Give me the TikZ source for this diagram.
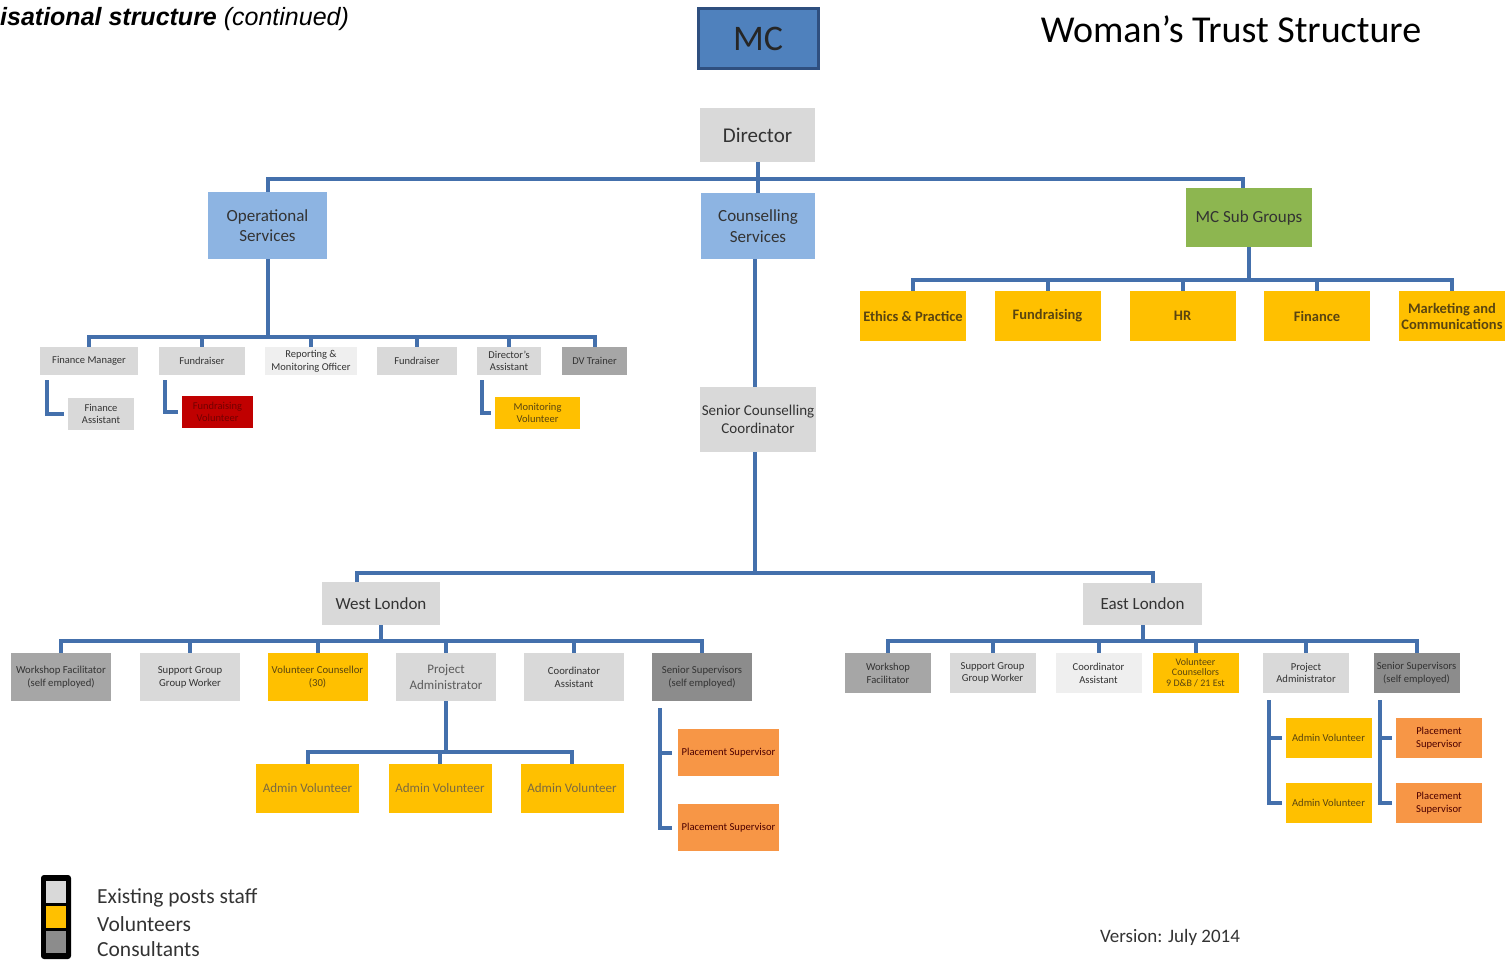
\documentclass[tikz,border=0pt]{standalone}
\usepackage{fontspec}
\setmainfont{Carlito}
\newfontfamily\arialf{Liberation Sans}
\definecolor{cline}{HTML}{4470AC}
\definecolor{mcblue}{HTML}{4F81BD}
\definecolor{mcedge}{HTML}{2F4F7F}
\definecolor{lblue}{HTML}{8DB4E2}
\definecolor{sgreen}{HTML}{8DB650}
\definecolor{gold}{HTML}{FFC000}
\definecolor{orng}{HTML}{F79646}
\definecolor{lgrey}{HTML}{D9D9D9}
\definecolor{vlgrey}{HTML}{EFEFEF}
\definecolor{mgrey}{HTML}{A6A6A6}
\definecolor{dgrey}{HTML}{8C8C8C}
\definecolor{dred}{HTML}{C00000}
\definecolor{txt}{HTML}{333333}
\definecolor{goldtxt}{HTML}{5A4510}
\tikzset{
  bx/.style={inner sep=0pt, outer sep=0pt, align=center, text=txt},
  conn/.style={draw=cline, line width=4pt},
  fs/.style={font=\fontsize{#1pt}{\dimexpr #1pt*6/5\relax}\selectfont},
}
\begin{document}
\begin{tikzpicture}[x=1pt,y=-1pt]
\useasboundingbox (0,0) rectangle (1512,960);
% headings
\node[anchor=west, inner sep=0pt] (hdr) at (0,19) {\arialf\fontsize{25}{27}\selectfont\textbf{\textit{isational structure}} \textit{(continued)}};
\node[inner sep=0pt] (title) at (1231,29) {\fontsize{38}{42}\selectfont Woman’s Trust Structure};
\node[bx, fill=mcblue, draw=mcedge, line width=3pt, minimum width=120pt, minimum height=60pt, fs=36, text=black!85] (mc) at (758,39) {MC};
% level 1
\node[bx, fill=lgrey, minimum width=115pt, minimum height=54pt, fs=21] (dir) at (757.5,135) {Director};
\node[bx, fill=lblue, minimum width=119pt, minimum height=67pt, fs=17] (ops) at (267.5,225.5) {Operational\\Services};
\node[bx, fill=lblue, minimum width=114pt, minimum height=66pt, fs=17] (cns) at (758,226) {Counselling\\Services};
\node[bx, fill=sgreen, minimum width=126pt, minimum height=59pt, fs=17] (mcs) at (1249,217.5) {MC Sub Groups};
\coordinate (b1) at (0,179);
\draw[conn] (dir.south) -- (dir.south |- b1) -| (ops.north);
\draw[conn] (dir.south |- b1) -| (cns.north);
\draw[conn] ([xshift=-6pt]mcs.north) |- (dir.south |- b1);
% MC sub groups
\tikzset{sg/.style={bx, fill=gold, minimum width=106pt, minimum height=50pt, font=\fontsize{14.5}{16}\selectfont\bfseries, text=goldtxt}}
\node[sg] (sg1) at (913,316) {Ethics \& Practice};
\node[sg] (sg2) at (1047.5,316) {Fundraising};
\node[sg] (sg3) at (1182.5,316) {HR};
\node[sg] (sg4) at (1317,316) {Finance};
\node[sg] (sg5) at (1452,316) {Marketing and\\Communications};
\coordinate (b2) at (0,280);
\foreach \n in {sg1,sg2,sg3,sg4,sg5}{\draw[conn] (mcs.south) -- (mcs.south |- b2) -| (\n.north);}
% operational services
\tikzset{sm/.style={bx, minimum height=28pt, fs=10.5}}
\node[sm, fill=lgrey, minimum width=98pt] (fm) at (89,361) {Finance Manager};
\node[sm, fill=lgrey, minimum width=86pt] (fr1) at (202,361) {Fundraiser};
\node[sm, fill=vlgrey, minimum width=92pt] (rmo) at (311,361) {Reporting \&\\Monitoring Officer};
\node[sm, fill=lgrey, minimum width=80pt] (fr2) at (417,361) {Fundraiser};
\node[sm, fill=lgrey, minimum width=64pt] (da) at (509,361) {Director’s\\Assistant};
\node[sm, fill=mgrey, minimum width=65pt] (dv) at (594.5,361) {DV Trainer};
\coordinate (b3) at (0,337);
\foreach \n in {fm,fr1,rmo,fr2,da,dv}{\draw[conn] (ops.south) -- (ops.south |- b3) -| (\n.north);}
\node[sm, fill=lgrey, minimum width=66pt, minimum height=32pt] (fa) at (101,414) {Finance\\Assistant};
\node[sm, fill=dred, minimum width=71pt, minimum height=32pt, text=red!45!black] (fv) at (217.5,412) {Fundraising\\Volunteer};
\node[sm, fill=gold, minimum width=85pt, minimum height=32pt, text=goldtxt] (mv) at (537.5,413) {Monitoring\\Volunteer};
\draw[conn] ([xshift=7pt,yshift=-5pt]fm.south west) |- ([xshift=-4pt]fa.west);
\draw[conn] ([xshift=6pt,yshift=-5pt]fr1.south west) |- ([xshift=-4pt]fv.west);
\draw[conn] ([xshift=5pt,yshift=-5pt]da.south west) |- ([xshift=-4pt]mv.west);
% counselling
\node[bx, fill=lgrey, minimum width=116pt, minimum height=65pt, fs=15] (scc) at (758,419.5) {Senior Counselling\\Coordinator};
\draw[conn] ([xshift=-3pt]cns.south) -- ([xshift=-3pt]scc.north);
\node[bx, fill=lgrey, minimum width=118pt, minimum height=43pt, fs=17] (wl) at (381,603.5) {West London};
\node[bx, fill=lgrey, minimum width=119pt, minimum height=42pt, fs=17] (el) at (1142.5,604) {East London};
\coordinate (b4) at (0,573);
\coordinate (sccs) at ([xshift=-3pt]scc.south);
\draw[conn] (sccs) -- (sccs |- b4) -| ([xshift=-24pt]wl.north);
\draw[conn] (sccs |- b4) -| ([xshift=10pt]el.north);
% West London
\tikzset{wb/.style={bx, minimum width=100pt, minimum height=48pt, fs=10.7}}
\node[wb, fill=mgrey] (w1) at (61,677) {Workshop Facilitator\\(self employed)};
\node[wb, fill=lgrey] (w2) at (190,677) {Support Group\\Group Worker};
\node[wb, fill=gold, text=goldtxt] (w3) at (317.5,677) {Volunteer Counsellor\\(30)};
\node[wb, fill=lgrey, fs=13, text=txt!80] (w4) at (446,677) {Project\\Administrator};
\node[wb, fill=lgrey] (w5) at (574,677) {Coordinator\\Assistant};
\node[wb, fill=dgrey] (w6) at (702,677) {Senior Supervisors\\(self employed)};
\coordinate (b5) at (0,641);
\foreach \n in {w1,w2,w3,w4,w5,w6}{\draw[conn] (wl.south) -- (wl.south |- b5) -| (\n.north);}
\tikzset{av/.style={bx, fill=gold, minimum width=103pt, minimum height=49pt, fs=13, text=goldtxt!80}}
\node[av] (av1) at (307.5,788.5) {Admin Volunteer};
\node[av] (av2) at (440,788.5) {Admin Volunteer};
\node[av] (av3) at (572,788.5) {Admin Volunteer};
\coordinate (b6) at (0,752);
\foreach \n in {av1,av2,av3}{\draw[conn] (w4.south) -- (w4.south |- b6) -| (\n.north);}
\tikzset{ps/.style={bx, fill=orng, minimum width=101pt, minimum height=47pt, fs=10.6, text=red!30!black}}
\node[ps] (ps1) at (728.5,752.5) {Placement Supervisor};
\node[ps] (ps2) at (728.5,827.5) {Placement Supervisor};
\coordinate (wss) at ([xshift=8pt,yshift=-7pt]w6.south west);
\draw[conn] (wss) |- ([xshift=-6pt]ps2.west);
\draw[conn] (wss |- ps1.west) -- ([xshift=-6pt]ps1.west);
% East London
\tikzset{eb/.style={bx, minimum width=86pt, minimum height=40pt, fs=10.6}}
\node[eb, fill=mgrey] (e1) at (888,673) {Workshop\\Facilitator};
\node[eb, fill=lgrey] (e2) at (992.5,673) {Support Group\\Group Worker};
\node[eb, fill=vlgrey] (e3) at (1098.5,673) {Coordinator\\Assistant};
\node[eb, fill=gold, text=goldtxt, fs=10, align=center] (e4) at (1195.5,673) {Volunteer\\[-2pt]Counsellors\\[-1pt]9 D\&B / 21 Est};
\node[eb, fill=lgrey] (e5) at (1306,673) {Project\\Administrator};
\node[eb, fill=dgrey] (e6) at (1416.5,673) {Senior Supervisors\\(self employed)};
\foreach \n in {e1,e2,e3,e4,e5,e6}{\draw[conn] (el.south) -- (el.south |- b5) -| (\n.north);}
\node[eb, fill=gold, text=goldtxt] (eav1) at (1328.5,738) {Admin Volunteer};
\node[eb, fill=gold, text=goldtxt] (eav2) at (1328.5,803) {Admin Volunteer};
\node[eb, fill=orng, text=red!30!black] (eps1) at (1439,738) {Placement\\Supervisor};
\node[eb, fill=orng, text=red!30!black] (eps2) at (1439,803) {Placement\\Supervisor};
\coordinate (eps) at ([xshift=6pt,yshift=-7pt]e5.south west);
\draw[conn] (eps) |- ([xshift=-4pt]eav2.west);
\draw[conn] (eps |- eav1.west) -- ([xshift=-4pt]eav1.west);
\coordinate (ess) at ([xshift=6pt,yshift=-7pt]e6.south west);
\draw[conn] (ess) |- ([xshift=-4pt]eps2.west);
\draw[conn] (ess |- eps1.west) -- ([xshift=-4pt]eps1.west);
% legend
\node[fill=black, rounded corners=3pt, minimum width=30pt, minimum height=84pt, inner sep=0pt] (lg) at (56,917) {};
\node[fill=lgrey, minimum width=20pt, minimum height=22pt, inner sep=0pt] (lg1) at (56,892) {};
\node[fill=gold, minimum width=20pt, minimum height=22pt, inner sep=0pt] (lg2) at (56,917) {};
\node[fill=dgrey, minimum width=20pt, minimum height=22pt, inner sep=0pt] (lg3) at (56,942) {};
\node[anchor=west, inner sep=0pt, fs=21.5, text=txt] (lt1) at (97,898) {Existing posts staff};
\node[anchor=west, inner sep=0pt, fs=21.5, text=txt] (lt2) at (97,924) {Volunteers};
\node[anchor=west, inner sep=0pt, fs=21.5, text=txt] (lt3) at (97,949) {Consultants};
\node[inner sep=0pt, fs=19, text=txt] (ver) at (1170,937) {Version: July 2014};
\end{tikzpicture}
\end{document}
